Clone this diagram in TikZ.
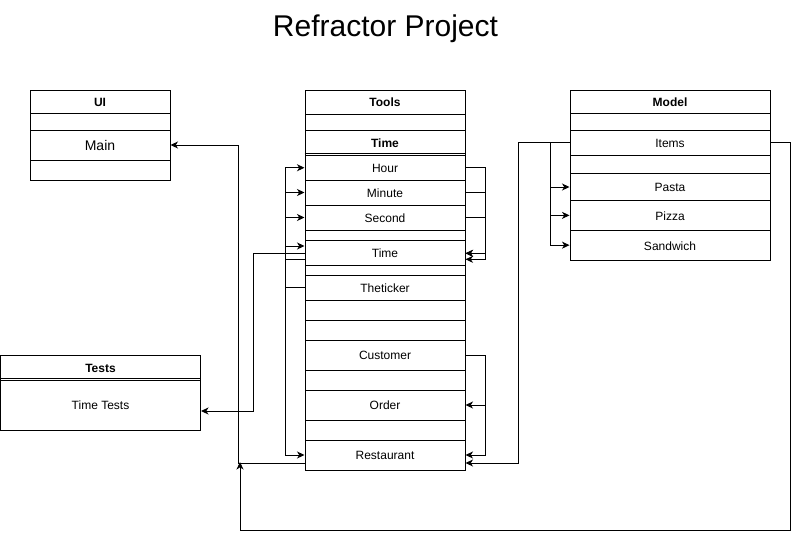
\documentclass[tikz,border=0pt]{standalone}
\usepackage{fontspec}
\setmainfont{Liberation Sans}
\usetikzlibrary{arrows.meta,calc}
\begin{document}
\begin{tikzpicture}[x=1pt,y=-1pt,line width=1pt,
  cell/.style={draw,inner sep=0pt,line width=1pt,text height=9.8pt,text depth=0pt,font=\fontsize{12}{14}\selectfont},
  hd/.style={cell,font=\fontsize{12}{14}\selectfont\bfseries},
  toolcell/.style={cell,minimum width=160pt},
  toolhd/.style={hd,minimum width=160pt},
  uicell/.style={cell,minimum width=140pt},
  uihd/.style={hd,minimum width=140pt},
  modcell/.style={cell,minimum width=200pt},
  modhd/.style={hd,minimum width=200pt},
  testcell/.style={cell,minimum width=200pt},
  testhd/.style={hd,minimum width=200pt},
  conn/.style={-{Stealth[length=7.5pt,width=7pt,inset=2.2pt]},line width=1pt},
  link/.style={line width=1pt}]
\useasboundingbox (0,0) rectangle (799,539);

% title
\node[anchor=base,font=\fontsize{30}{36}\selectfont] (title) at (385.5,36) {Refractor Project};

% UI
\node[uihd,minimum height=23.5pt] (uihd) at (100,101.75) {UI};
\node[uicell,minimum height=16.5pt] (ui0) at (100,121.75) {};
\node[uicell,minimum height=30pt,text height=11.2pt,font=\fontsize{14}{16}\selectfont] (main) at (100,145) {Main};
\node[uicell,minimum height=20pt] (ui1) at (100,170) {};

% Tools
\node[toolhd,minimum height=24pt] (toolshd) at (385,102) {Tools};
\node[toolcell,minimum height=16pt] (t0) at (385,122) {};
\node[toolhd,minimum height=25.5pt] (timehd) at (385,142.75) {Time};
\draw[link] ($(timehd.south west)+(0,-2.3)$) -- ($(timehd.south east)+(0,-2.3)$);
\node[toolcell,minimum height=24.5pt] (hour) at (385,167.75) {Hour};
\node[toolcell,minimum height=25pt] (minute) at (385,192.5) {Minute};
\node[toolcell,minimum height=25pt] (second) at (385,217.5) {Second};
\node[toolcell,minimum height=10pt] (t1) at (385,235) {};
\node[toolcell,minimum height=25pt] (time) at (385,252.5) {Time};
\node[toolcell,minimum height=10pt] (t2) at (385,270) {};
\node[toolcell,minimum height=25pt] (ticker) at (385,287.5) {Theticker};
\node[toolcell,minimum height=20pt] (t3) at (385,310) {};
\node[toolcell,minimum height=20pt] (t4) at (385,330) {};
\node[toolcell,minimum height=30pt] (customer) at (385,355) {Customer};
\node[toolcell,minimum height=20pt] (t5) at (385,380) {};
\node[toolcell,minimum height=30pt] (order) at (385,405) {Order};
\node[toolcell,minimum height=20pt] (t6) at (385,430) {};
\node[toolcell,minimum height=30pt] (restaurant) at (385,455) {Restaurant};

% Model
\node[modhd,minimum height=23.5pt] (modelhd) at (670,101.75) {Model};
\node[modcell,minimum height=16.5pt] (m0) at (670,121.75) {};
\node[modcell,minimum height=25pt] (items) at (670,142.5) {Items};
\node[modcell,minimum height=18.3pt] (m1) at (670,164.15) {};
\node[modcell,minimum height=27.4pt] (pasta) at (670,187) {Pasta};
\node[modcell,minimum height=29.3pt] (pizza) at (670,215.35) {Pizza};
\node[modcell,minimum height=30.3pt] (sandwich) at (670,245.15) {Sandwich};

% Tests
\node[testhd,minimum height=25pt] (testshd) at (100.5,367.5) {Tests};
\draw[link] ($(testshd.south west)+(0,-2.3)$) -- ($(testshd.south east)+(0,-2.3)$);
\node[testcell,minimum height=50pt] (timetests) at (100.5,405) {Time Tests};

% connectors
\coordinate (junc) at (240,462);
\draw[conn] ($(restaurant.west)+(0,8)$) -| (238.3,300) |- (main.east);
\draw[conn] (items.west) -| (518.3,300) |- ($(restaurant.east)+(0,8)$);
\draw[conn] (items.east) -| (790,400) |- (240,530) -- (junc);
\draw[conn] (items.west) -| (550.7,170) |- (pasta.west);
\draw[conn] (items.west) -| (550.7,200) |- (pizza.west);
\draw[conn] (items.west) -| (550.7,230) |- (sandwich.west);

\draw[conn] ($(time.west)+(0,1.2)$) -| (253.3,330) |- ($(timetests.east)+(0,6)$);
\draw[conn] ($(time.west)+(0,6.8)$) -| (285.7,210) |- (hour.west);
\draw[conn] ($(time.west)+(0,6.8)$) -| (285.7,210) |- (minute.west);
\draw[conn] ($(time.west)+(0,6.8)$) -| (285.7,230) |- (second.west);
\draw[conn] (ticker.west) -| (285.7,270) |- ($(time.west)+(0,-6.5)$);
\draw[conn] (ticker.west) -| (285.7,400) |- (restaurant.west);

\draw[conn] (hour.east) -| (485.3,220) |- ($(time.east)+(0,6.8)$);
\draw[conn] (minute.east) -| (485.3,230) |- ($(time.east)+(0,0.8)$);
\draw[conn] (second.east) -| (485.3,235) |- ($(time.east)+(0,0.8)$);
\draw[conn] (customer.east) -| (485.3,380) |- (order.east);
\draw[conn] (customer.east) -| (485.3,430) |- (restaurant.east);
\end{tikzpicture}
\end{document}
